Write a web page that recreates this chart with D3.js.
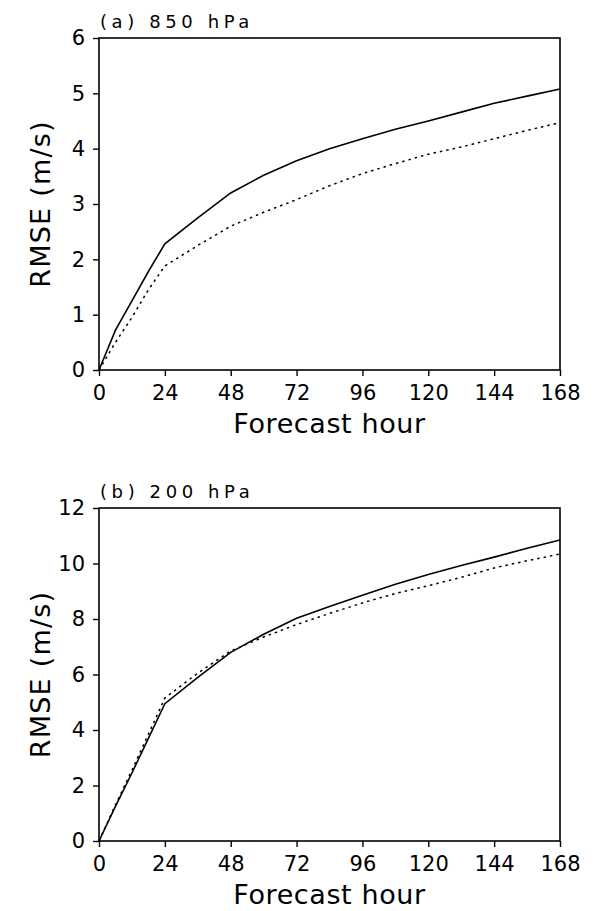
<!DOCTYPE html>
<html>
<head>
<meta charset="utf-8">
<script src="https://d3js.org/d3.v7.min.js"></script>
<style>
  body { margin: 0; background: #fff; }
  text { font-family: "DejaVu Sans", sans-serif; fill: #000; }
</style>
</head>
<body>
<svg id="chart" width="594" height="911"></svg>
<script>

// forecast hours
var hours = [0, 6, 12, 18, 24, 36, 48, 60, 72, 84, 96, 108, 120, 132, 144, 156, 168];
var xTicks = [0, 24, 48, 72, 96, 120, 144, 168];

// (a) 850 hPa
var rmse850Solid  = [0, 0.72, 1.25, 1.78, 2.28, 2.75, 3.2, 3.52, 3.78, 4.0, 4.18, 4.35, 4.5, 4.66, 4.82, 4.95, 5.08];
var rmse850Dotted = [0, 0.5, 0.95, 1.45, 1.88, 2.25, 2.6, 2.85, 3.08, 3.33, 3.55, 3.73, 3.9, 4.03, 4.18, 4.33, 4.47];

// (b) 200 hPa
var rmse200Solid  = [0, 1.25, 2.45, 3.7, 4.95, 5.9, 6.8, 7.45, 8.03, 8.45, 8.86, 9.25, 9.6, 9.93, 10.23, 10.55, 10.85];
var rmse200Dotted = [0, 1.3, 2.55, 3.85, 5.15, 6.05, 6.85, 7.35, 7.8, 8.2, 8.58, 8.92, 9.2, 9.5, 9.84, 10.1, 10.34];

var panels = [
  {title: "(a) 850 hPa", top: 38, bottom: 370, ymax: 6, yTicks: [0, 1, 2, 3, 4, 5, 6], solid: rmse850Solid, dotted: rmse850Dotted},
  {title: "(b) 200 hPa", top: 508, bottom: 841, ymax: 12, yTicks: [0, 2, 4, 6, 8, 10, 12], solid: rmse200Solid, dotted: rmse200Dotted}
];

var svg = d3.select("#chart");
var left = 99, right = 560;

panels.forEach(function(p) {
  var x = d3.scaleLinear().domain([0, 168]).range([left, right]);
  var y = d3.scaleLinear().domain([0, p.ymax]).range([p.bottom, p.top]);
  var g = svg.append("g");

  // x axis
  var xa = g.append("g")
      .attr("transform", "translate(0," + p.bottom + ")")
      .call(d3.axisBottom(x).tickValues(xTicks).tickFormat(d3.format("d"))
        .tickSizeInner(6).tickSizeOuter(0).tickPadding(9));
  xa.select(".domain").remove();
  xa.selectAll("line").attr("stroke", "#000").attr("stroke-width", 1.4);
  xa.selectAll("text")
      .attr("font-family", "DejaVu Sans")
      .attr("font-size", 21)
      .attr("dy", "0.71em");

  // y axis
  var ya = g.append("g")
      .attr("transform", "translate(" + left + ",0)")
      .call(d3.axisLeft(y).tickValues(p.yTicks).tickFormat(d3.format("d"))
        .tickSizeInner(6).tickSizeOuter(0).tickPadding(8));
  ya.select(".domain").remove();
  ya.selectAll("line").attr("stroke", "#000").attr("stroke-width", 1.4);
  ya.selectAll("text")
      .attr("font-family", "DejaVu Sans")
      .attr("font-size", 21);

  // frame
  g.append("rect")
      .attr("x", x(0))
      .attr("y", y(p.ymax))
      .attr("width", x(168) - x(0))
      .attr("height", y(0) - y(p.ymax))
      .attr("fill", "none")
      .attr("stroke", "#000")
      .attr("stroke-width", 1.6);

  var line = d3.line()
      .x(function(d) { return x(d[0]); })
      .y(function(d) { return y(d[1]); });

  g.append("path")
      .datum(d3.zip(hours, p.dotted))
      .attr("fill", "none")
      .attr("stroke", "#000")
      .attr("stroke-width", 1.5)
      .attr("stroke-dasharray", "2.5,4")
      .attr("d", line);

  g.append("path")
      .datum(d3.zip(hours, p.solid))
      .attr("fill", "none")
      .attr("stroke", "#000")
      .attr("stroke-width", 1.6)
      .attr("d", line);

  // titles
  g.append("text")
      .attr("x", 100)
      .attr("y", p.top - 10)
      .attr("font-size", 18)
      .attr("letter-spacing", 4.6)
      .text(p.title);

  g.append("text")
      .attr("x", (left + right) / 2)
      .attr("y", p.bottom + 63)
      .attr("text-anchor", "middle")
      .attr("font-size", 27)
      .attr("letter-spacing", 0.6)
      .text("Forecast hour");

  g.append("text")
      .attr("transform", "translate(50," + ((p.top + p.bottom) / 2) + ") rotate(-90)")
      .attr("text-anchor", "middle")
      .attr("font-size", 27)
      .attr("letter-spacing", 1.2)
      .text("RMSE (m/s)");
});

</script>
</body>
</html>
